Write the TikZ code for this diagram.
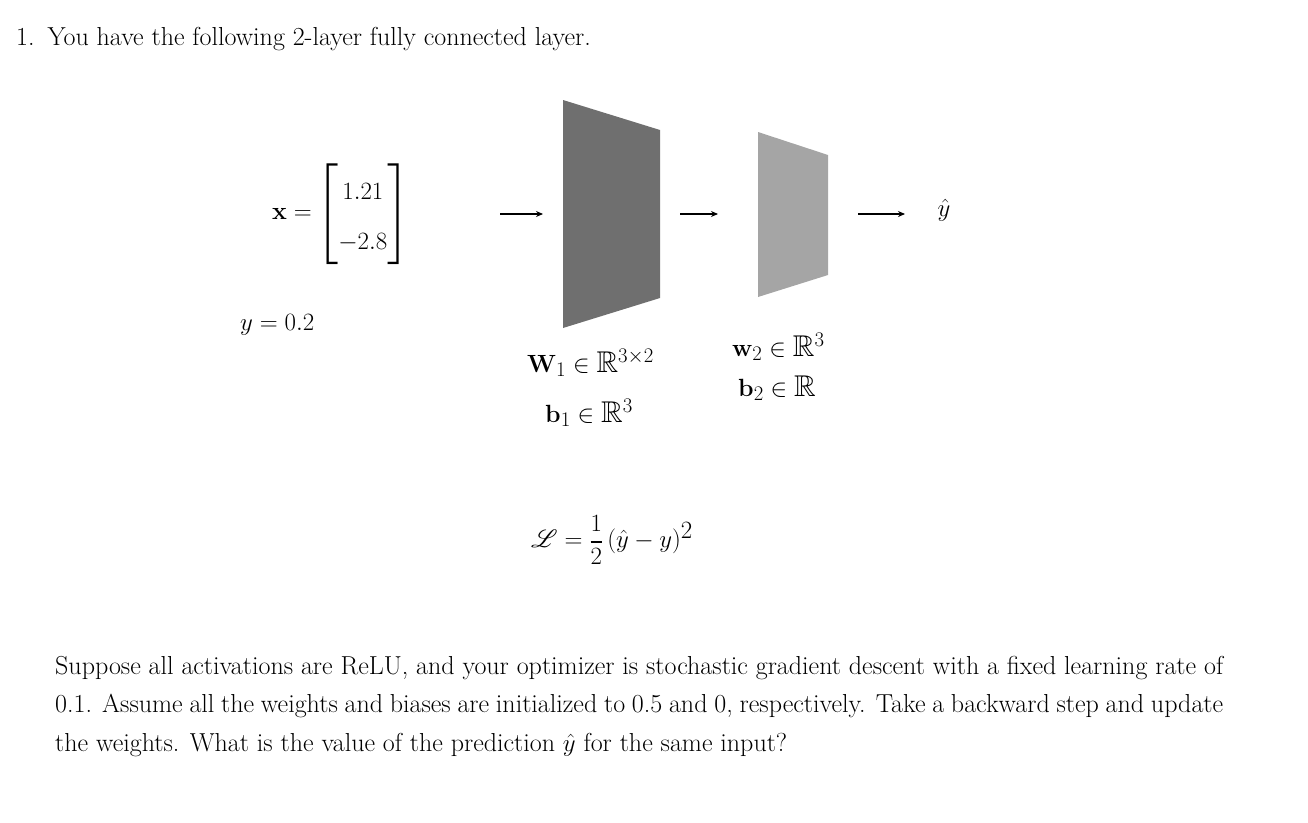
\documentclass[tikz,border=0pt]{standalone}
\usetikzlibrary{arrows.meta}
\usepackage{amsmath,amssymb,mathrsfs}
\begin{document}
\begin{tikzpicture}[x=1pt,y=-1pt,
  body/.style={anchor=base west,inner sep=0pt,font=\fontsize{26}{38.5}\selectfont},
  big/.style={inner sep=0pt,font=\fontsize{42}{50}\selectfont},
  lab/.style={inner sep=0pt,font=\fontsize{30}{36}\selectfont},
  arr/.style={-{Stealth[length=7pt,width=6pt]},line width=1.3pt}]
\useasboundingbox (0,0) rectangle (1308,822);
\node[body] (title) at (16,45) {1.\enspace You have the following 2-layer fully connected layer.};
\node[big,anchor=east] (x) at (312,214) {$\mathbf{x}=$};
\node[big,anchor=west] (m) at (316,214) {$\begin{bmatrix}1.21\\-2.8\end{bmatrix}$};
\node[big,anchor=base west] (y) at (240,330) {$y=0.2$};
\path[fill={rgb,255:red,111;green,111;blue,111}] (563,100) -- (660,130) -- (660,298) -- (563,328) -- cycle;
\coordinate (l1w) at (560,214); \coordinate (l1e) at (663,214);
\path[fill={rgb,255:red,165;green,165;blue,165}] (758,132) -- (828,155) -- (828,275) -- (758,297) -- cycle;
\coordinate (l2w) at (755,214); \coordinate (l2e) at (831,214);
\node[big] (yh) at (944,210) {$\hat{y}$};
\draw[arr] (500,214) -- (543,214);
\draw[arr] (680,214) -- (718,214);
\draw[arr] (858,214) -- (905,214);
\node[lab,anchor=base west] (W1) at (527,372) {$\mathbf{W}_1\in\mathbb{R}^{3\times2}$};
\node[lab,anchor=base west] (b1) at (545,422) {$\mathbf{b}_1\in\mathbb{R}^{3}$};
\node[lab,anchor=base west] (w2) at (732,356) {$\mathbf{w}_2\in\mathbb{R}^{3}$};
\node[lab,anchor=base west] (b2) at (738,396) {$\mathbf{b}_2\in\mathbb{R}$};
\node[big] (L) at (612,540) {$\mathscr{L}=\dfrac{1}{2}\left(\hat{y}-y\right)^2$};
\node[body,anchor=north west,text width=1168pt,align=justify] (p) at (55,656)
{Suppose all activations are ReLU, and your optimizer is stochastic gradient descent with a fixed learning rate of 0.1. Assume all the weights and biases are initialized to 0.5 and 0, respectively. Take a backward step and update the weights. What is the value of the prediction $\hat{y}$ for the same input?};
\end{tikzpicture}
\end{document}
